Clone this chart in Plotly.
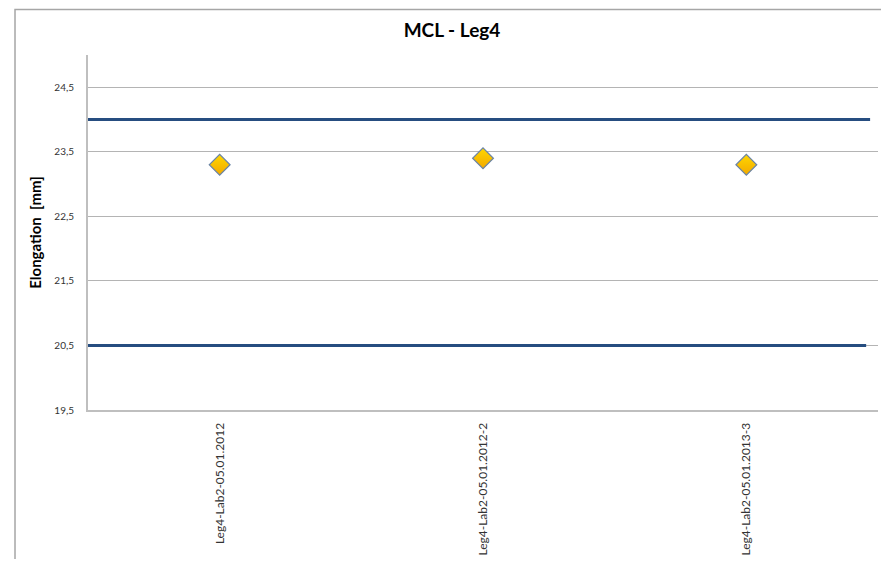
import plotly.graph_objects as go

# data
samples = ["Leg4-Lab2-05.01.2012", "Leg4-Lab2-05.01.2012-2", "Leg4-Lab2-05.01.2013-3"]
elongation = [23.3, 23.4, 23.3]
upper_limit = 24.0
lower_limit = 20.5
y_ticks = [19.5, 20.5, 21.5, 22.5, 23.5, 24.5]
y_tick_text = ["19,5", "20,5", "21,5", "22,5", "23,5", "24,5"]

fig = go.Figure()

# limit lines
fig.add_hline(y=upper_limit, x0=0, x1=0.99, line=dict(color="#264D80", width=3), layer="above")
fig.add_hline(y=lower_limit, x0=0, x1=0.985, line=dict(color="#264D80", width=3), layer="above")

fig.add_trace(go.Scatter(
    x=list(range(len(samples))),
    y=elongation,
    mode="markers",
    marker=dict(symbol="diamond", size=16, color="#FFD700",
                gradient=dict(type="vertical", color="#F2A900"),
                line=dict(color="#6A84A6", width=1.2)),
    showlegend=False,
    hoverinfo="y",
))

# outer chart border
fig.add_shape(type="rect", xref="paper", yref="paper",
              x0=-0.0924, x1=1.03, y0=-0.6, y1=1.1285,
              line=dict(color="#A6A6A6", width=1.5), fillcolor="rgba(0,0,0,0)")

# page body has an 8px default margin, so the figure is sized to fit inside it
fig.update_layout(
    width=873, height=551,
    margin=dict(l=80, r=3, t=47, b=146),
    paper_bgcolor="white", plot_bgcolor="white",
    font=dict(family="Lato, Open Sans, sans-serif", color="#333333"),
    title=dict(text="<b>MCL - Leg4</b>", x=0.5086, xanchor="center", y=0.960, yanchor="middle",
               font=dict(size=19, color="#000000")),
    xaxis=dict(
        range=[-0.5, 2.5], tickvals=list(range(len(samples))), ticktext=samples,
        tickangle=-90, tickfont=dict(size=12, color="#333333"),
        showgrid=False, zeroline=False,
        showline=True, linecolor="#BFBFBF", linewidth=2,
        ticks="", ticklabelstandoff=6,
    ),
    yaxis=dict(
        range=[19.5, 25.0], tickvals=y_ticks, ticktext=y_tick_text,
        tickfont=dict(size=10, color="#333333"),
        showgrid=True, gridcolor="#B4B4B4", gridwidth=1.2, zeroline=False,
        showline=True, linecolor="#BFBFBF", linewidth=2,
        ticks="", ticklabelstandoff=10,
        title=dict(text="<b>Elongation  [mm]</b>", font=dict(size=15, color="#000000"), standoff=9),
    ),
)

fig.write_html("out.html")
